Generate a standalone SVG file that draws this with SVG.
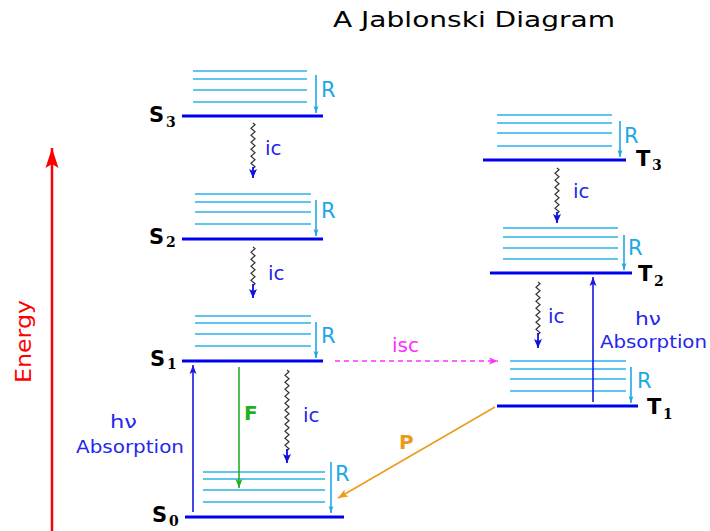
<svg xmlns="http://www.w3.org/2000/svg" width="710" height="531" viewBox="0 0 710 531">
<style>
text{font-family:"DejaVu Sans","Verdana",sans-serif}
.main{stroke:#0000f0;stroke-width:3.2}
.vib{stroke:#2cb2ec;stroke-width:1.6}
.r{stroke:#1ea7e6;stroke-width:1.6;marker-end:url(#mR)}
.rl{fill:#1ea7e6;font-size:21px}
.lab{fill:#000;font-weight:bold;font-size:21px;font-family:"DejaVu Sans",sans-serif}
.sub{fill:#000;font-weight:bold;font-size:14px;font-family:"DejaVu Serif",serif}
.wave{fill:none;stroke:#333;stroke-width:1.2}
.ich{stroke:#1010e0;stroke-width:1.8;marker-end:url(#mB)}
.icl{fill:#2626ee;font-size:20px}
.abs{stroke:#1a1ae0;stroke-width:1.6;marker-end:url(#mA)}
.absl{fill:#2626ee;font-size:17px}
</style>
<defs>
<marker id="mR" markerUnits="userSpaceOnUse" markerWidth="7" markerHeight="10" viewBox="0 0 10 7" refX="10" refY="3.5" orient="auto"><path d="M0,0 L10,3.5 L0,7 L2,3.5 z" fill="#1ea7e6"/></marker>
<marker id="mB" markerUnits="userSpaceOnUse" markerWidth="9" markerHeight="9" viewBox="0 0 9 8" refX="9" refY="4" orient="auto"><path d="M0,0 L9,4 L0,8 L2,4 z" fill="#1010e0"/></marker>
<marker id="mA" markerUnits="userSpaceOnUse" markerWidth="9" markerHeight="9" viewBox="0 0 9 7" refX="9" refY="3.5" orient="auto"><path d="M0,0 L9,3.5 L0,7 L2,3.5 z" fill="#1a1ae0"/></marker>
<marker id="mG" markerUnits="userSpaceOnUse" markerWidth="9" markerHeight="9" viewBox="0 0 9 7" refX="9" refY="3.5" orient="auto"><path d="M0,0 L9,3.5 L0,7 L2,3.5 z" fill="#22b022"/></marker>
<marker id="mM" markerUnits="userSpaceOnUse" markerWidth="9" markerHeight="9" viewBox="0 0 9 7" refX="9" refY="3.5" orient="auto"><path d="M0,0 L9,3.5 L0,7 L2,3.5 z" fill="#ff30ff"/></marker>
<marker id="mO" markerUnits="userSpaceOnUse" markerWidth="10" markerHeight="10" viewBox="0 0 10 8" refX="10" refY="4" orient="auto"><path d="M0,0 L10,4 L0,8 L2.5,4 z" fill="#ec9a1c"/></marker>
<marker id="mE" markerUnits="userSpaceOnUse" markerWidth="20" markerHeight="20" viewBox="0 0 20 13" refX="20" refY="6.5" orient="auto"><path d="M0,0 L20,6.5 L0,13 L4,6.5 z" fill="#ff0000"/></marker>
</defs>
<rect width="710" height="531" fill="#fff"/>
<text id="title" x="333" y="27" font-size="21" textLength="282" lengthAdjust="spacingAndGlyphs" fill="#000">A Jablonski Diagram</text>

<g id="S3">
<line class="vib" x1="193" y1="71" x2="307" y2="71"/>
<line class="vib" x1="193" y1="79" x2="307" y2="79"/>
<line class="vib" x1="193" y1="90" x2="307" y2="90"/>
<line class="vib" x1="193" y1="102" x2="307" y2="102"/>
<line class="main" x1="182" y1="116" x2="323" y2="116"/>
<line class="r" x1="316" y1="75" x2="316" y2="113"/>
<text class="rl" x="321" y="97">R</text>
<text class="lab" x="149" y="122">S</text><text class="sub" x="166" y="127">3</text>
</g>
<g id="S2">
<line class="vib" x1="195" y1="194" x2="311" y2="194"/>
<line class="vib" x1="195" y1="202" x2="311" y2="202"/>
<line class="vib" x1="195" y1="212" x2="311" y2="212"/>
<line class="vib" x1="195" y1="224" x2="311" y2="224"/>
<line class="main" x1="182" y1="239" x2="323" y2="239"/>
<line class="r" x1="316" y1="200" x2="316" y2="236"/>
<text class="rl" x="321" y="218">R</text>
<text class="lab" x="149" y="244">S</text><text class="sub" x="166" y="247">2</text>
</g>
<g id="S1">
<line class="vib" x1="195" y1="316" x2="311" y2="316"/>
<line class="vib" x1="195" y1="323" x2="311" y2="323"/>
<line class="vib" x1="195" y1="334" x2="311" y2="334"/>
<line class="vib" x1="195" y1="346" x2="311" y2="346"/>
<line class="main" x1="182" y1="361" x2="323" y2="361"/>
<line class="r" x1="316" y1="322" x2="316" y2="358"/>
<text class="rl" x="321" y="343">R</text>
<text class="lab" x="150" y="366">S</text><text class="sub" x="167" y="369">1</text>
</g>
<g id="S0">
<line class="vib" x1="203" y1="472" x2="325" y2="472"/>
<line class="vib" x1="203" y1="479" x2="325" y2="479"/>
<line class="vib" x1="203" y1="490" x2="325" y2="490"/>
<line class="vib" x1="203" y1="502" x2="325" y2="502"/>
<line class="main" x1="185" y1="517" x2="344" y2="517"/>
<line class="r" x1="331" y1="462" x2="331" y2="513"/>
<text class="rl" x="335" y="481">R</text>
<text class="lab" x="152" y="522">S</text><text class="sub" x="169" y="526">0</text>
</g>
<g id="T3">
<line class="vib" x1="497" y1="115" x2="612" y2="115"/>
<line class="vib" x1="497" y1="123" x2="612" y2="123"/>
<line class="vib" x1="497" y1="133" x2="612" y2="133"/>
<line class="vib" x1="497" y1="146" x2="612" y2="146"/>
<line class="main" x1="483" y1="160" x2="626" y2="160"/>
<line class="r" x1="620" y1="121" x2="620" y2="157"/>
<text class="rl" x="624" y="143">R</text>
<text class="lab" x="636" y="166">T</text><text class="sub" x="652" y="170">3</text>
</g>
<g id="T2">
<line class="vib" x1="503" y1="228" x2="618" y2="228"/>
<line class="vib" x1="503" y1="237" x2="618" y2="237"/>
<line class="vib" x1="503" y1="248" x2="618" y2="248"/>
<line class="vib" x1="503" y1="259" x2="618" y2="259"/>
<line class="main" x1="490" y1="273" x2="632" y2="273"/>
<line class="r" x1="624" y1="235" x2="624" y2="270"/>
<text class="rl" x="628" y="255">R</text>
<text class="lab" x="638" y="281">T</text><text class="sub" x="654" y="286">2</text>
</g>
<g id="T1">
<line class="vib" x1="510" y1="361" x2="626" y2="361"/>
<line class="vib" x1="510" y1="369" x2="626" y2="369"/>
<line class="vib" x1="510" y1="379" x2="626" y2="379"/>
<line class="vib" x1="510" y1="391" x2="626" y2="391"/>
<line class="main" x1="497" y1="406" x2="638" y2="406"/>
<line class="r" x1="631" y1="367" x2="631" y2="403"/>
<text class="rl" x="637" y="388">R</text>
<text class="lab" x="647" y="414">T</text><text class="sub" x="663" y="419">1</text>
</g>

<g id="connectors">
<!-- Energy axis -->
<line x1="52" y1="531" x2="52" y2="148" stroke="#ff0000" stroke-width="2.5" marker-end="url(#mE)"/>
<text x="0" y="0" transform="translate(31,383) rotate(-90)" font-size="21" textLength="83" lengthAdjust="spacingAndGlyphs" fill="#ff0000">Energy</text>

<!-- ic S3 -> S2 -->
<path class="wave" d="M253,123 l2,1.75 l-4,3.5 l4,3.5 l-4,3.5 l4,3.5 l-4,3.5 l4,3.5 l-4,3.5 l4,3.5 l-4,3.5 l4,3.5 l-4,3.5 l4,3.5 l-2,1.75"/>
<line class="ich" x1="253" y1="167" x2="253" y2="178"/>
<text class="icl" x="265" y="155">ic</text>

<!-- ic S2 -> S1 -->
<path class="wave" d="M253,247 l2,1.75 l-4,3.5 l4,3.5 l-4,3.5 l4,3.5 l-4,3.5 l4,3.5 l-4,3.5 l4,3.5 l-4,3.5 l4,3.5 l-2,1.75"/>
<line class="ich" x1="253" y1="284" x2="253" y2="298"/>
<text class="icl" x="268" y="280">ic</text>

<!-- ic S1 -> S0 -->
<path class="wave" d="M287,370 l2,1.75 l-4,3.5 l4,3.5 l-4,3.5 l4,3.5 l-4,3.5 l4,3.5 l-4,3.5 l4,3.5 l-4,3.5 l4,3.5 l-4,3.5 l4,3.5 l-4,3.5 l4,3.5 l-4,3.5 l4,3.5 l-4,3.5 l4,3.5 l-4,3.5 l4,3.5 l-4,3.5 l4,3.5 l-2,1.75"/>
<line class="ich" x1="287" y1="449" x2="287" y2="463"/>
<text class="icl" x="303" y="422">ic</text>

<!-- ic T3 -> T2 -->
<path class="wave" d="M557,168 l2,1.75 l-4,3.5 l4,3.5 l-4,3.5 l4,3.5 l-4,3.5 l4,3.5 l-4,3.5 l4,3.5 l-4,3.5 l4,3.5 l-4,3.5 l4,3.5 l-2,1.75"/>
<line class="ich" x1="557" y1="212" x2="557" y2="223"/>
<text class="icl" x="573" y="198">ic</text>

<!-- ic T2 -> T1 -->
<path class="wave" d="M538,282 l2,1.75 l-4,3.5 l4,3.5 l-4,3.5 l4,3.5 l-4,3.5 l4,3.5 l-4,3.5 l4,3.5 l-4,3.5 l4,3.5 l-4,3.5 l4,3.5 l-4,3.5 l4,3.5 l-2,1.75"/>
<line class="ich" x1="538" y1="333" x2="538" y2="348"/>
<text class="icl" x="548" y="323">ic</text>

<!-- Absorption S0 -> S1 -->
<line class="abs" x1="193" y1="512" x2="193" y2="365"/>
<text class="absl" x="110" y="428" textLength="27" lengthAdjust="spacingAndGlyphs">hν</text>
<text class="absl" x="76" y="453" textLength="108" lengthAdjust="spacingAndGlyphs">Absorption</text>

<!-- Absorption T1 -> T2 -->
<line class="abs" x1="593" y1="402" x2="593" y2="277"/>
<text class="absl" x="635" y="325" textLength="26" lengthAdjust="spacingAndGlyphs">hν</text>
<text class="absl" x="600" y="348" textLength="107" lengthAdjust="spacingAndGlyphs">Absorption</text>

<!-- Fluorescence -->
<line x1="239" y1="367" x2="239" y2="488" stroke="#22b022" stroke-width="1.6" marker-end="url(#mG)"/>
<text x="244" y="420" font-size="20" font-weight="bold" fill="#22b022">F</text>

<!-- ISC -->
<line x1="335" y1="361" x2="498" y2="361" stroke="#ff30ff" stroke-width="1.5" stroke-dasharray="5,4" marker-end="url(#mM)"/>
<text x="392" y="352" font-size="20" fill="#ff30ff">isc</text>

<!-- Phosphorescence -->
<line x1="495" y1="407" x2="338" y2="498" stroke="#ec9a1c" stroke-width="1.5" marker-end="url(#mO)"/>
<text x="399" y="449" font-size="20" font-weight="bold" fill="#ec9a1c">P</text>
</g>
</svg>
